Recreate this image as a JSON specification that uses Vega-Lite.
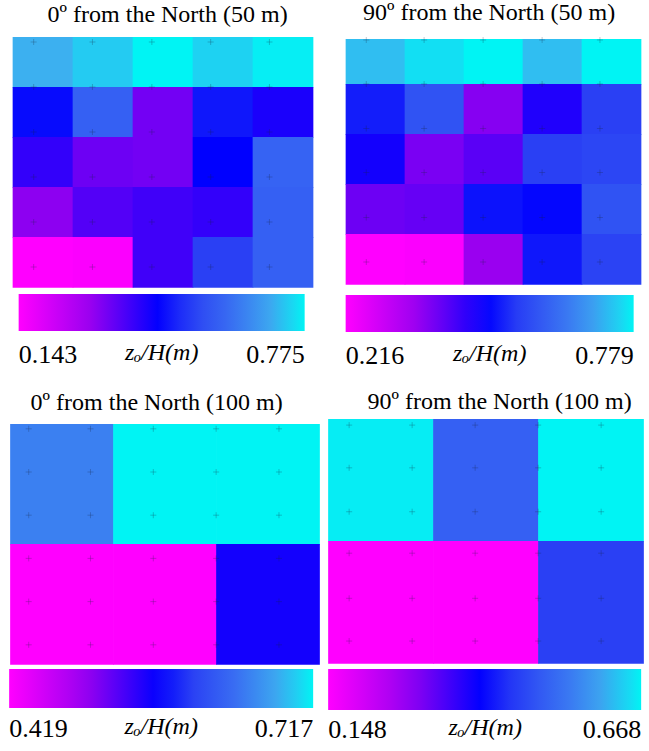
{
  "$schema": "https://vega.github.io/schema/vega-lite/v6.json",
  "padding": {"left": 9, "top": 1, "right": 0, "bottom": 0},
  "background": "white",
  "datasets": {
    "p1": [
      {"x0":0,"x1":1,"y0":0,"y1":1,"v":0.712},{"x0":1,"x1":2,"y0":0,"y1":1,"v":0.737},{"x0":2,"x1":3,"y0":0,"y1":1,"v":0.775},{"x0":3,"x1":4,"y0":0,"y1":1,"v":0.743},{"x0":4,"x1":5,"y0":0,"y1":1,"v":0.769},
      {"x0":0,"x1":1,"y0":1,"y1":2,"v":0.465},{"x0":1,"x1":2,"y0":1,"y1":2,"v":0.585},{"x0":2,"x1":3,"y0":1,"y1":2,"v":0.339},{"x0":3,"x1":4,"y0":1,"y1":2,"v":0.478},{"x0":4,"x1":5,"y0":1,"y1":2,"v":0.427},
      {"x0":0,"x1":1,"y0":2,"y1":3,"v":0.402},{"x0":1,"x1":2,"y0":2,"y1":3,"v":0.345},{"x0":2,"x1":3,"y0":2,"y1":3,"v":0.339},{"x0":3,"x1":4,"y0":2,"y1":3,"v":0.453},{"x0":4,"x1":5,"y0":2,"y1":3,"v":0.592},
      {"x0":0,"x1":1,"y0":3,"y1":4,"v":0.314},{"x0":1,"x1":2,"y0":3,"y1":4,"v":0.371},{"x0":2,"x1":3,"y0":3,"y1":4,"v":0.390},{"x0":3,"x1":4,"y0":3,"y1":4,"v":0.402},{"x0":4,"x1":5,"y0":3,"y1":4,"v":0.585},
      {"x0":0,"x1":1,"y0":4,"y1":5,"v":0.143},{"x0":1,"x1":2,"y0":4,"y1":5,"v":0.149},{"x0":2,"x1":3,"y0":4,"y1":5,"v":0.390},{"x0":3,"x1":4,"y0":4,"y1":5,"v":0.522},{"x0":4,"x1":5,"y0":4,"y1":5,"v":0.585}
    ],
    "p2": [
      {"x0":0,"x1":1,"y0":0.1,"y1":1,"v":0.734},{"x0":1,"x1":2,"y0":0.1,"y1":1,"v":0.762},{"x0":2,"x1":3,"y0":0.1,"y1":1,"v":0.779},{"x0":3,"x1":4,"y0":0.1,"y1":1,"v":0.734},{"x0":4,"x1":5,"y0":0.1,"y1":1,"v":0.779},
      {"x0":0,"x1":1,"y0":1,"y1":2,"v":0.520},{"x0":1,"x1":2,"y0":1,"y1":2,"v":0.588},{"x0":2,"x1":3,"y0":1,"y1":2,"v":0.374},{"x0":3,"x1":4,"y0":1,"y1":2,"v":0.464},{"x0":4,"x1":5,"y0":1,"y1":2,"v":0.554},
      {"x0":0,"x1":1,"y0":2,"y1":3,"v":0.475},{"x0":1,"x1":2,"y0":2,"y1":3,"v":0.385},{"x0":2,"x1":3,"y0":2,"y1":3,"v":0.413},{"x0":3,"x1":4,"y0":2,"y1":3,"v":0.554},{"x0":4,"x1":5,"y0":2,"y1":3,"v":0.565},
      {"x0":0,"x1":1,"y0":3,"y1":4,"v":0.396},{"x0":1,"x1":2,"y0":3,"y1":4,"v":0.402},{"x0":2,"x1":3,"y0":3,"y1":4,"v":0.509},{"x0":3,"x1":4,"y0":3,"y1":4,"v":0.498},{"x0":4,"x1":5,"y0":3,"y1":4,"v":0.588},
      {"x0":0,"x1":1,"y0":4,"y1":5,"v":0.216},{"x0":1,"x1":2,"y0":4,"y1":5,"v":0.222},{"x0":2,"x1":3,"y0":4,"y1":5,"v":0.357},{"x0":3,"x1":4,"y0":4,"y1":5,"v":0.514},{"x0":4,"x1":5,"y0":4,"y1":5,"v":0.559}
    ],
    "p3": [
      {"x0":0,"x1":1,"y0":0,"y1":1,"v":0.654},{"x0":1,"x1":2,"y0":0,"y1":1,"v":0.717},{"x0":2,"x1":3,"y0":0,"y1":1,"v":0.717},
      {"x0":0,"x1":1,"y0":1,"y1":2,"v":0.419},{"x0":1,"x1":2,"y0":1,"y1":2,"v":0.419},{"x0":2,"x1":3,"y0":1,"y1":2,"v":0.556}
    ],
    "p4": [
      {"x0":0,"x1":1,"y0":0,"y1":1,"v":0.663},{"x0":1,"x1":2,"y0":0,"y1":1,"v":0.512},{"x0":2,"x1":3,"y0":0,"y1":1,"v":0.668},
      {"x0":0,"x1":1,"y0":1,"y1":2,"v":0.148},{"x0":1,"x1":2,"y0":1,"y1":2,"v":0.148},{"x0":2,"x1":3,"y0":1,"y1":2,"v":0.460}
    ],
    "pts1": [
      {"px":0.35,"py":0.1},{"px":1.33,"py":0.1},{"px":2.32,"py":0.1},{"px":3.3,"py":0.1},{"px":4.28,"py":0.1},
      {"px":0.35,"py":1.0},{"px":1.33,"py":1.0},{"px":2.32,"py":1.0},{"px":3.3,"py":1.0},{"px":4.28,"py":1.0},
      {"px":0.35,"py":1.9},{"px":1.33,"py":1.9},{"px":2.32,"py":1.9},{"px":3.3,"py":1.9},{"px":4.28,"py":1.9},
      {"px":0.35,"py":2.8},{"px":1.33,"py":2.8},{"px":2.32,"py":2.8},{"px":3.3,"py":2.8},{"px":4.28,"py":2.8},
      {"px":0.35,"py":3.7},{"px":1.33,"py":3.7},{"px":2.32,"py":3.7},{"px":3.3,"py":3.7},{"px":4.28,"py":3.7},
      {"px":0.35,"py":4.6},{"px":1.33,"py":4.6},{"px":2.32,"py":4.6},{"px":3.3,"py":4.6},{"px":4.28,"py":4.6}
    ],
    "pts2": [
      {"px":0.35,"py":0.12},{"px":1.33,"py":0.12},{"px":2.33,"py":0.12},{"px":3.33,"py":0.12},{"px":4.31,"py":0.12},
      {"px":0.35,"py":1.0},{"px":1.33,"py":1.0},{"px":2.33,"py":1.0},{"px":3.33,"py":1.0},{"px":4.31,"py":1.0},
      {"px":0.35,"py":1.89},{"px":1.33,"py":1.89},{"px":2.33,"py":1.89},{"px":3.33,"py":1.89},{"px":4.31,"py":1.89},
      {"px":0.35,"py":2.77},{"px":1.33,"py":2.77},{"px":2.33,"py":2.77},{"px":3.33,"py":2.77},{"px":4.31,"py":2.77},
      {"px":0.35,"py":3.67},{"px":1.33,"py":3.67},{"px":2.33,"py":3.67},{"px":3.33,"py":3.67},{"px":4.31,"py":3.67},
      {"px":0.35,"py":4.56},{"px":1.33,"py":4.56},{"px":2.33,"py":4.56},{"px":3.33,"py":4.56},{"px":4.31,"py":4.56}
    ],
    "pts3": [
      {"px":0.18,"py":0.04},{"px":0.78,"py":0.04},{"px":1.39,"py":0.04},{"px":2.0,"py":0.04},{"px":2.61,"py":0.04},
      {"px":0.18,"py":0.4},{"px":0.78,"py":0.4},{"px":1.39,"py":0.4},{"px":2.0,"py":0.4},{"px":2.61,"py":0.4},
      {"px":0.18,"py":0.76},{"px":0.78,"py":0.76},{"px":1.39,"py":0.76},{"px":2.0,"py":0.76},{"px":2.61,"py":0.76},
      {"px":0.18,"py":1.12},{"px":0.78,"py":1.12},{"px":1.39,"py":1.12},{"px":2.0,"py":1.12},{"px":2.61,"py":1.12},
      {"px":0.18,"py":1.48},{"px":0.78,"py":1.48},{"px":1.39,"py":1.48},{"px":2.0,"py":1.48},{"px":2.61,"py":1.48},
      {"px":0.18,"py":1.84},{"px":0.78,"py":1.84},{"px":1.39,"py":1.84},{"px":2.0,"py":1.84},{"px":2.61,"py":1.84}
    ],
    "pts4": [
      {"px":0.2,"py":0.05},{"px":0.8,"py":0.05},{"px":1.4,"py":0.05},{"px":2.0,"py":0.05},{"px":2.6,"py":0.05},
      {"px":0.2,"py":0.4},{"px":0.8,"py":0.4},{"px":1.4,"py":0.4},{"px":2.0,"py":0.4},{"px":2.6,"py":0.4},
      {"px":0.2,"py":0.76},{"px":0.8,"py":0.76},{"px":1.4,"py":0.76},{"px":2.0,"py":0.76},{"px":2.6,"py":0.76},
      {"px":0.2,"py":1.1},{"px":0.8,"py":1.1},{"px":1.4,"py":1.1},{"px":2.0,"py":1.1},{"px":2.6,"py":1.1},
      {"px":0.2,"py":1.47},{"px":0.8,"py":1.47},{"px":1.4,"py":1.47},{"px":2.0,"py":1.47},{"px":2.6,"py":1.47},
      {"px":0.2,"py":1.82},{"px":0.8,"py":1.82},{"px":1.4,"py":1.82},{"px":2.0,"py":1.82},{"px":2.6,"py":1.82}
    ]
  },
  "vconcat": [
    {
      "hconcat": [
        {
          "width": 300, "height": 250,
          "title": {"text": "0º from the North (50 m)", "dx": 5, "offset": 10},
          "layer": [
            {
              "data": {"name": "p1"},
              "mark": {"type": "rect", "x2Offset": 0.7, "y2Offset": 0.7},
              "encoding": {
                "x": {"field": "x0", "type": "quantitative", "scale": {"domain": [0, 5], "nice": false, "zero": false}, "axis": null},
                "x2": {"field": "x1"},
                "y": {"field": "y0", "type": "quantitative", "scale": {"domain": [0, 5], "nice": false, "zero": false, "reverse": true}, "axis": null},
                "y2": {"field": "y1"},
                "color": {"field": "v", "type": "quantitative", "title": "zₒ/H(m)",
                  "scale": {"domain": [0.143, 0.301, 0.4527, 0.5222, 0.617, 0.7118, 0.775], "range": ["#ff00ff", "#9a00f0", "#0000ff", "#2a40f4", "#3a70f2", "#3cb0f0", "#00f4f4"], "interpolate": "rgb"},
                  "legend": {"legendX": 6, "legendY": 257, "gradientLength": 286, "gradientThickness": 37, "values": [0.143, 0.775], "format": ".3f", "labelOffset": 11}}
              }
            },
            {
              "data": {"name": "pts1"},
              "mark": {"type": "point", "shape": "M-1,0H1M0,-1V1", "size": 36, "filled": false, "stroke": "#1a2440", "strokeWidth": 0.8, "strokeOpacity": 0.45},
              "encoding": {
                "x": {"field": "px", "type": "quantitative"},
                "y": {"field": "py", "type": "quantitative"}
              }
            }
          ]
        },
        {
          "width": 295, "height": 247,
          "title": {"text": "90º from the North (50 m)", "dx": -4, "offset": 10},
          "layer": [
            {
              "data": {"name": "p2"},
              "mark": {"type": "rect", "x2Offset": 0.7, "y2Offset": 0.7},
              "encoding": {
                "x": {"field": "x0", "type": "quantitative", "scale": {"domain": [0, 5], "nice": false, "zero": false}, "axis": null},
                "x2": {"field": "x1"},
                "y": {"field": "y0", "type": "quantitative", "scale": {"domain": [0.06, 5], "nice": false, "zero": false, "reverse": true}, "axis": null},
                "y2": {"field": "y1"},
                "color": {"field": "v", "type": "quantitative", "title": "zₒ/H(m)",
                  "scale": {"domain": [0.216, 0.3568, 0.4919, 0.5538, 0.6383, 0.7227, 0.779], "range": ["#ff00ff", "#9a00f0", "#0000ff", "#2a40f4", "#3a70f2", "#3cb0f0", "#00f4f4"], "interpolate": "rgb"},
                  "legend": {"legendX": 0, "legendY": 258, "gradientLength": 288, "gradientThickness": 37, "values": [0.216, 0.779], "format": ".3f", "labelOffset": 11}}
              }
            },
            {
              "data": {"name": "pts2"},
              "mark": {"type": "point", "shape": "M-1,0H1M0,-1V1", "size": 36, "filled": false, "stroke": "#1a2440", "strokeWidth": 0.8, "strokeOpacity": 0.45},
              "encoding": {
                "x": {"field": "px", "type": "quantitative"},
                "y": {"field": "py", "type": "quantitative"}
              }
            }
          ]
        }
      ],
      "spacing": 32,
      "resolve": {"scale": {"color": "independent"}, "legend": {"color": "independent"}}
    },
    {
      "hconcat": [
        {
          "width": 309, "height": 245,
          "title": {"text": "0º from the North (100 m)", "dx": -8, "offset": 4},
          "layer": [
            {
              "data": {"name": "p3"},
              "mark": {"type": "rect", "x2Offset": 0.7, "y2Offset": 0.7},
              "encoding": {
                "x": {"field": "x0", "type": "quantitative", "scale": {"domain": [0, 3], "nice": false, "zero": false}, "axis": null},
                "x2": {"field": "x1"},
                "y": {"field": "y0", "type": "quantitative", "scale": {"domain": [-0.0417, 2], "nice": false, "zero": false, "reverse": true}, "axis": null},
                "y2": {"field": "y1"},
                "color": {"field": "v", "type": "quantitative", "title": "zₒ/H(m)",
                  "scale": {"domain": [0.419, 0.4935, 0.565, 0.5978, 0.6425, 0.6872, 0.717], "range": ["#ff00ff", "#9a00f0", "#0000ff", "#2a40f4", "#3a70f2", "#3cb0f0", "#00f4f4"], "interpolate": "rgb"},
                  "legend": {"legendX": -1, "legendY": 250, "gradientLength": 304, "gradientThickness": 39, "values": [0.419, 0.717], "format": ".3f", "labelOffset": 8}}
              }
            },
            {
              "data": {"name": "pts3"},
              "mark": {"type": "point", "shape": "M-1,0H1M0,-1V1", "size": 36, "filled": false, "stroke": "#1a2440", "strokeWidth": 0.8, "strokeOpacity": 0.45},
              "encoding": {
                "x": {"field": "px", "type": "quantitative"},
                "y": {"field": "py", "type": "quantitative"}
              }
            }
          ]
        },
        {
          "width": 315, "height": 244,
          "title": {"text": "90º from the North (100 m)", "dx": 14, "offset": 5},
          "layer": [
            {
              "data": {"name": "p4"},
              "mark": {"type": "rect", "x2Offset": 0.7, "y2Offset": 0.7},
              "encoding": {
                "x": {"field": "x0", "type": "quantitative", "scale": {"domain": [0, 3], "nice": false, "zero": false}, "axis": null},
                "x2": {"field": "x1"},
                "y": {"field": "y0", "type": "quantitative", "scale": {"domain": [0, 2], "nice": false, "zero": false, "reverse": true}, "axis": null},
                "y2": {"field": "y1"},
                "color": {"field": "v", "type": "quantitative", "title": "zₒ/H(m)",
                  "scale": {"domain": [0.148, 0.278, 0.4028, 0.46, 0.538, 0.616, 0.668], "range": ["#ff00ff", "#9a00f0", "#0000ff", "#2a40f4", "#3a70f2", "#3cb0f0", "#00f4f4"], "interpolate": "rgb"},
                  "legend": {"legendX": 0, "legendY": 250, "gradientLength": 313, "gradientThickness": 41, "values": [0.148, 0.668], "format": ".3f", "labelOffset": 7}}
              }
            },
            {
              "data": {"name": "pts4"},
              "mark": {"type": "point", "shape": "M-1,0H1M0,-1V1", "size": 36, "filled": false, "stroke": "#1a2440", "strokeWidth": 0.8, "strokeOpacity": 0.45},
              "encoding": {
                "x": {"field": "px", "type": "quantitative"},
                "y": {"field": "py", "type": "quantitative"}
              }
            }
          ]
        }
      ],
      "spacing": 8,
      "resolve": {"scale": {"color": "independent"}, "legend": {"color": "independent"}}
    }
  ],
  "spacing": 21,
  "center": true,
  "resolve": {"scale": {"color": "independent"}, "legend": {"color": "independent"}},
  "config": {
    "view": {"stroke": null},
    "font": "Liberation Serif",
    "title": {"font": "Liberation Serif", "fontSize": 24, "fontWeight": "normal", "color": "#000000", "anchor": "middle"},
    "legend": {
      "orient": "none",
      "direction": "horizontal",
      "titleOrient": "bottom",
      "titleAnchor": "middle",
      "titlePadding": -27,
      "titleFont": "Liberation Serif",
      "titleFontSize": 24,
      "titleFontStyle": "italic",
      "titleFontWeight": "normal",
      "titleColor": "#000000",
      "labelFont": "Liberation Serif",
      "labelFontSize": 26,
      "labelColor": "#000000",
      "labelOverlap": false,
      "gradientStrokeWidth": 0,
      "padding": 0
    }
  }
}
